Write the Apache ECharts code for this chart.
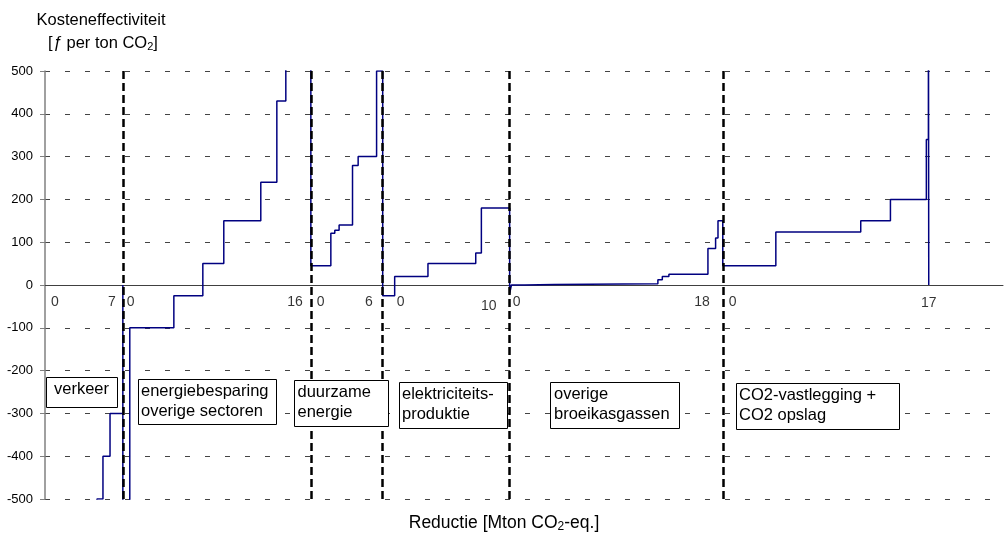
<!DOCTYPE html>
<html><head><meta charset="utf-8">
<script src="https://cdn.jsdelivr.net/npm/echarts@6/dist/echarts.min.js"></script>
<style>html,body{margin:0;padding:0;background:#fff}#c{width:1007px;height:542px}</style>
</head><body><div id="c"></div>
<script>
// ---- data ----
const segmentNames = ['verkeer', 'energiebesparing\noverige sectoren', 'duurzame\nenergie', 'elektriciteits-\nproduktie', 'overige\nbroeikasgassen', 'CO2-vastlegging +\nCO2 opslag'];
const segmentWidths = [6.5, 15.7, 6.0, 10.6, 17.8, 17.2];   // Mton CO2-eq. per sector
const segmentEndLabels = ['7', '16', '6', '10', '18', '17'];
// step curves: [local reduction, cost (f per ton CO2)]
const verkeerSteps = [[0, -900], [4.34, -500], [4.84, -400], [5.43, -300], [6.5, 0]];
const energieSteps = [[0, -900], [0.58, -100], [4.26, -25], [6.68, 50], [8.43, 150], [11.52, 240], [12.86, 430], [13.61, 700], [15.7, 700]];
const duurzameSteps = [[0, 45], [1.67, 121], [2.0, 128], [2.36, 140], [3.48, 279], [3.95, 300], [5.49, 500], [6.0, 500]];
const elektriciteitSteps = [[0, -25], [1.0, 20], [3.78, 50], [7.77, 75], [8.24, 180], [10.6, 180]];
const overigeSteps = [[0, -20], [0.15, 0], [1.25, 1], [3.76, 3], [12.38, 12], [12.75, 20], [13.3, 25], [16.56, 85], [17.2, 110], [17.4, 150], [17.8, 150]];
const co2Steps = [[0, 45], [4.43, 124], [11.52, 150], [14.0, 200], [17.0, 340], [17.17, 800], [17.2, 0]];
const yMin = -500, yMax = 500, yStep = 100;

// ---- build ----
const FONT = "'Liberation Sans', Arial, sans-serif";
const offsets = [0];
segmentWidths.forEach((w, i) => offsets.push(+(offsets[i] + w).toFixed(4)));
const allSteps = [verkeerSteps, energieSteps, duurzameSteps, elektriciteitSteps, overigeSteps, co2Steps];
const curve = [];
allSteps.forEach((steps, i) => steps.forEach(([x, y]) => curve.push([offsets[i] + x, y])));

// label styling (offsets in px)
const startOff = [6, 4, 6, 14, 3, 6];
const endOff = [[-7, 17], [-8, 17], [-10, 17], [-13, 21], [-13, 17], [0, 18]];
const tickData = [];
segmentWidths.forEach((w, i) => {
  tickData.push({ value: [offsets[i], 0], label: { formatter: '0', align: 'left', offset: [startOff[i], 17] } });
  tickData.push({ value: [offsets[i + 1], 0], label: { formatter: segmentEndLabels[i], align: i === 5 ? 'center' : 'right', offset: endOff[i] } });
});

// annotation boxes (pixel layout)
const boxRects = [[46, 377, 71, 30], [138, 379, 138, 45], [294, 380, 94, 46], [399, 382, 108, 46], [550, 382, 129, 46], [736, 383, 163, 46]];
const boxText = [[54, 379.5], [141, 381], [297.5, 382], [402, 384], [554, 384.5], [739, 385.5]];
const graphics = [];
segmentNames.forEach((name, i) => {
  const r = boxRects[i];
  graphics.push({ type: 'rect', shape: { x: r[0] + 0.5, y: r[1] + 0.5, width: r[2], height: r[3] }, style: { fill: '#fff', stroke: '#000', lineWidth: 1 }, z: 100 });
  graphics.push({ type: 'text', x: boxText[i][0], y: boxText[i][1], style: { text: name, fontSize: 16.5, fontFamily: FONT, fill: '#000', lineHeight: 20, align: 'left', verticalAlign: 'top' }, z: 101 });
});
const subRich = (fs) => ({ s: { fontSize: Math.round(fs * 0.68), fontFamily: FONT, lineHeight: 8, verticalAlign: 'bottom', fill: '#000' }, i: { fontSize: fs, fontFamily: FONT, fontStyle: 'italic', fill: '#000' } });
graphics.push({ type: 'text', x: 101, y: 20, style: { text: 'Kosteneffectiviteit', fontSize: 16.5, fontFamily: FONT, fill: '#000', align: 'center', verticalAlign: 'middle' }, z: 101 });
graphics.push({ type: 'text', x: 103, y: 43, style: { text: '[{i|ƒ} per ton CO{s|2}]', fontSize: 16.5, lineHeight: 18, fontFamily: FONT, fill: '#000', align: 'center', verticalAlign: 'middle', rich: subRich(16.5) }, z: 101 });
graphics.push({ type: 'text', x: 504, y: 523, style: { text: 'Reductie [Mton CO{s|2}-eq.]', fontSize: 17.5, lineHeight: 20, fontFamily: FONT, fill: '#000', align: 'center', verticalAlign: 'middle', rich: subRich(17.5) }, z: 101 });

const chart = echarts.init(document.getElementById('c'), null, { renderer: 'canvas' });
chart.setOption({
  animation: false,
  backgroundColor: '#fff',
  grid: { left: 45, right: 4, top: 71, bottom: 43 },
  xAxis: {
    type: 'value', min: 0, max: 80,
    axisLine: { show: true, onZero: true, lineStyle: { color: '#404040', width: 1 } },
    axisTick: { show: false }, axisLabel: { show: false }, splitLine: { show: false }
  },
  yAxis: {
    type: 'value', min: yMin, max: yMax, interval: yStep,
    axisLine: { show: true, lineStyle: { color: '#808080', width: 1.5 } },
    axisTick: { show: true, length: 5, lineStyle: { color: '#808080' } },
    axisLabel: { color: '#000', fontSize: 13, fontFamily: FONT, margin: 12 },
    splitLine: { show: true, lineStyle: { color: '#444', width: 1, type: [5, 15] } }
  },
  graphic: graphics,
  series: [
    {
      type: 'line', name: 'curve', data: curve, step: 'end', showSymbol: false, clip: true,
      lineStyle: { color: '#000080', width: 1.5 }, z: 3
    },
    {
      type: 'line', name: 'dividers', data: [], z: 4,
      markLine: {
        silent: true, symbol: ['none', 'none'], label: { show: false },
        lineStyle: { color: '#000', width: 2.5, type: [8, 4] },
        data: offsets.slice(1, 6).map(x => ({ xAxis: x }))
      }
    },
    {
      type: 'scatter', name: 'ticks', data: tickData, symbolSize: 0, z: 5, silent: true,
      label: { show: true, position: 'inside', verticalAlign: 'middle', color: '#000', fontSize: 14, fontFamily: FONT }
    }
  ]
});
</script></body></html>
